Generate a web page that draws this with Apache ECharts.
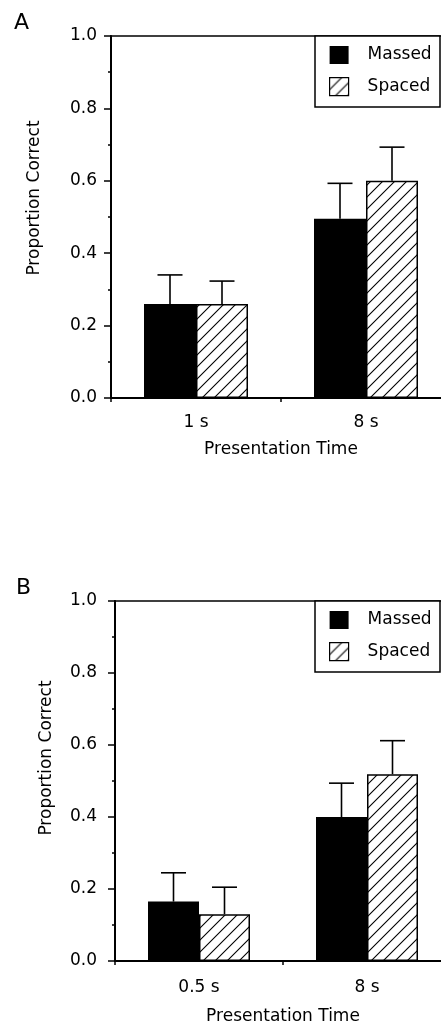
<!DOCTYPE html>
<html>
<head>
<meta charset="utf-8">
<script src="https://cdn.jsdelivr.net/npm/echarts@6/dist/echarts.min.js"></script>
<style>
html,body{margin:0;padding:0;background:#fff;}
#chart{width:441px;height:1024px;}
</style>
</head>
<body>
<div id="chart"></div>
<script>
// ---- data ----
const seriesNames = ['Massed', 'Spaced'];
const yTicks = [0, 0.2, 0.4, 0.6, 0.8, 1.0];

const categoriesA = ['1 s', '8 s'];
const massedA = [0.26, 0.495];
const spacedA = [0.26, 0.60];
const massedErrTopA = [0.34, 0.593];
const spacedErrTopA = [0.323, 0.693];

const categoriesB = ['0.5 s', '8 s'];
const massedB = [0.165, 0.40];
const spacedB = [0.13, 0.519];
const massedErrTopB = [0.245, 0.494];
const spacedErrTopB = [0.205, 0.612];

// ---- styles ----
const FONT = 'DejaVu Sans';
const BAR_W_A = 52;
const BAR_W_B = 51;

function makeHatch() {
  const s = 12;
  const c = document.createElement('canvas');
  c.width = s; c.height = s;
  const ctx = c.getContext('2d');
  ctx.fillStyle = '#fff';
  ctx.fillRect(0, 0, s, s);
  ctx.strokeStyle = '#000';
  ctx.lineWidth = 1.1;
  ctx.beginPath();
  ctx.moveTo(-1, s + 1); ctx.lineTo(s + 1, -1);
  ctx.moveTo(-1, 1); ctx.lineTo(1, -1);
  ctx.moveTo(s - 1, s + 1); ctx.lineTo(s + 1, s - 1);
  ctx.stroke();
  return { image: c, repeat: 'repeat' };
}
const hatch = makeHatch();

function errData(errTop, vals) {
  return errTop.map((e, i) => [i, vals[i], e]);
}

function errSeries(name, xIdx, data, offsetSign, barW) {
  return {
    type: 'custom',
    name: name,
    xAxisIndex: xIdx,
    yAxisIndex: xIdx,
    z: 1,
    silent: true,
    data: data,
    encode: { x: 0, y: 2 },
    renderItem: function (params, api) {
      const base = api.coord([api.value(0), api.value(1)]);
      const top = api.coord([api.value(0), api.value(2)]);
      const x = base[0] + offsetSign * barW / 2;
      const capHalf = 12.5;
      const st = { stroke: '#000', lineWidth: 1.6 };
      return {
        type: 'group',
        children: [
          { type: 'line', shape: { x1: x, y1: base[1], x2: x, y2: top[1] }, style: st },
          { type: 'line', shape: { x1: x - capHalf, y1: top[1], x2: x + capHalf, y2: top[1] }, style: st }
        ]
      };
    }
  };
}

function yAxisCfg(gi, margin) {
  return {
    gridIndex: gi,
    type: 'value',
    min: 0, max: 1, interval: 0.2,
    axisLine: { show: true, lineStyle: { color: '#000', width: 2 } },
    axisTick: { show: true, length: 7, lineStyle: { color: '#000', width: 1.5 } },
    minorTick: { show: true, splitNumber: 2, length: 3, lineStyle: { color: '#000', width: 1.5 } },
    splitLine: { show: false },
    axisLabel: {
      margin: margin, color: '#000', fontFamily: FONT, fontSize: 17,
      formatter: v => v.toFixed(1)
    }
  };
}

function xAxisCfg(gi, cats, labelMargin, nameGap) {
  return {
    gridIndex: gi,
    type: 'category',
    data: cats,
    axisLine: { show: true, lineStyle: { color: '#000', width: 2 } },
    axisTick: { show: true, length: 4, lineStyle: { color: '#000', width: 1.5 } },
    axisLabel: { margin: labelMargin, color: '#000', fontFamily: FONT, fontSize: 17 },
    name: 'Presentation Time',
    nameLocation: 'middle',
    nameGap: nameGap,
    nameTextStyle: { color: '#000', fontFamily: FONT, fontSize: 17 }
  };
}

function legendCfg(top) {
  return {
    orient: 'vertical',
    left: 315,
    top: top,
    data: [
      { name: 'Massed', itemStyle: { color: '#000', borderWidth: 0 } },
      { name: 'Spaced', itemStyle: { color: hatch, borderColor: '#000', borderWidth: 1.2 } }
    ],
    icon: 'rect',
    itemWidth: 19,
    itemHeight: 18,
    itemGap: 13,
    padding: [10, 0, 12, 14],
    borderWidth: 0,
    backgroundColor: 'transparent',
    selectedMode: false,
    z: 10,
    textStyle: { color: '#000', fontFamily: FONT, fontSize: 17, padding: [0, 0, 0, 14] }
  };
}

function legendBox(x, y, w, h) {
  return {
    type: 'rect', z: 5,
    shape: { x: x, y: y, width: w, height: h },
    style: { fill: '#fff', stroke: '#000', lineWidth: 1.5 }
  };
}

const gridBase = { show: true, borderColor: '#000', borderWidth: 1.5, backgroundColor: 'transparent',
  outerBoundsMode: 'none', containLabel: false };

const option = {
  backgroundColor: '#fff',
  animation: false,
  textStyle: { fontFamily: FONT },
  grid: [
    Object.assign({ left: 111, top: 36, height: 362, width: 340 }, gridBase),
    Object.assign({ left: 115, top: 601, height: 360, width: 336 }, gridBase)
  ],
  legend: [legendCfg(36), legendCfg(601)],
  xAxis: [xAxisCfg(0, categoriesA, 16, 43), xAxisCfg(1, categoriesB, 18, 47)],
  yAxis: [yAxisCfg(0, 14), yAxisCfg(1, 18)],
  graphic: [
    legendBox(315, 36, 125, 71),
    legendBox(315, 601, 125, 71),
    { type: 'text', left: 14, top: 12, style: { text: 'A', font: '22px "' + FONT + '"', fill: '#000' } },
    { type: 'text', left: 16, top: 577, style: { text: 'B', font: '22px "' + FONT + '"', fill: '#000' } },
    { type: 'text', x: 35, y: 198, rotation: Math.PI / 2,
      style: { text: 'Proportion Correct', font: '17px "' + FONT + '"', fill: '#000', align: 'center', verticalAlign: 'middle' } },
    { type: 'text', x: 47, y: 758, rotation: Math.PI / 2,
      style: { text: 'Proportion Correct', font: '17px "' + FONT + '"', fill: '#000', align: 'center', verticalAlign: 'middle' } }
  ],
  series: [
    { type: 'bar', name: 'Massed', xAxisIndex: 0, yAxisIndex: 0, data: massedA, barWidth: BAR_W_A, barGap: '0%',
      itemStyle: { color: '#000' }, z: 2 },
    { type: 'bar', name: 'Spaced', xAxisIndex: 0, yAxisIndex: 0, data: spacedA, barWidth: BAR_W_A, barGap: '0%',
      itemStyle: { color: hatch, borderColor: '#000', borderWidth: 1.5 }, z: 2 },
    { type: 'bar', name: 'Massed', xAxisIndex: 1, yAxisIndex: 1, data: massedB, barWidth: BAR_W_B, barGap: '0%',
      itemStyle: { color: '#000' }, z: 2 },
    { type: 'bar', name: 'Spaced', xAxisIndex: 1, yAxisIndex: 1, data: spacedB, barWidth: BAR_W_B, barGap: '0%',
      itemStyle: { color: hatch, borderColor: '#000', borderWidth: 1.5 }, z: 2 },
    errSeries('errMassedA', 0, errData(massedErrTopA, massedA), -1, BAR_W_A),
    errSeries('errSpacedA', 0, errData(spacedErrTopA, spacedA), 1, BAR_W_A),
    errSeries('errMassedB', 1, errData(massedErrTopB, massedB), -1, BAR_W_B),
    errSeries('errSpacedB', 1, errData(spacedErrTopB, spacedB), 1, BAR_W_B)
  ]
};

const chart = echarts.init(document.getElementById('chart'), null, { renderer: 'canvas' });
chart.setOption(option);
</script>
</body>
</html>
